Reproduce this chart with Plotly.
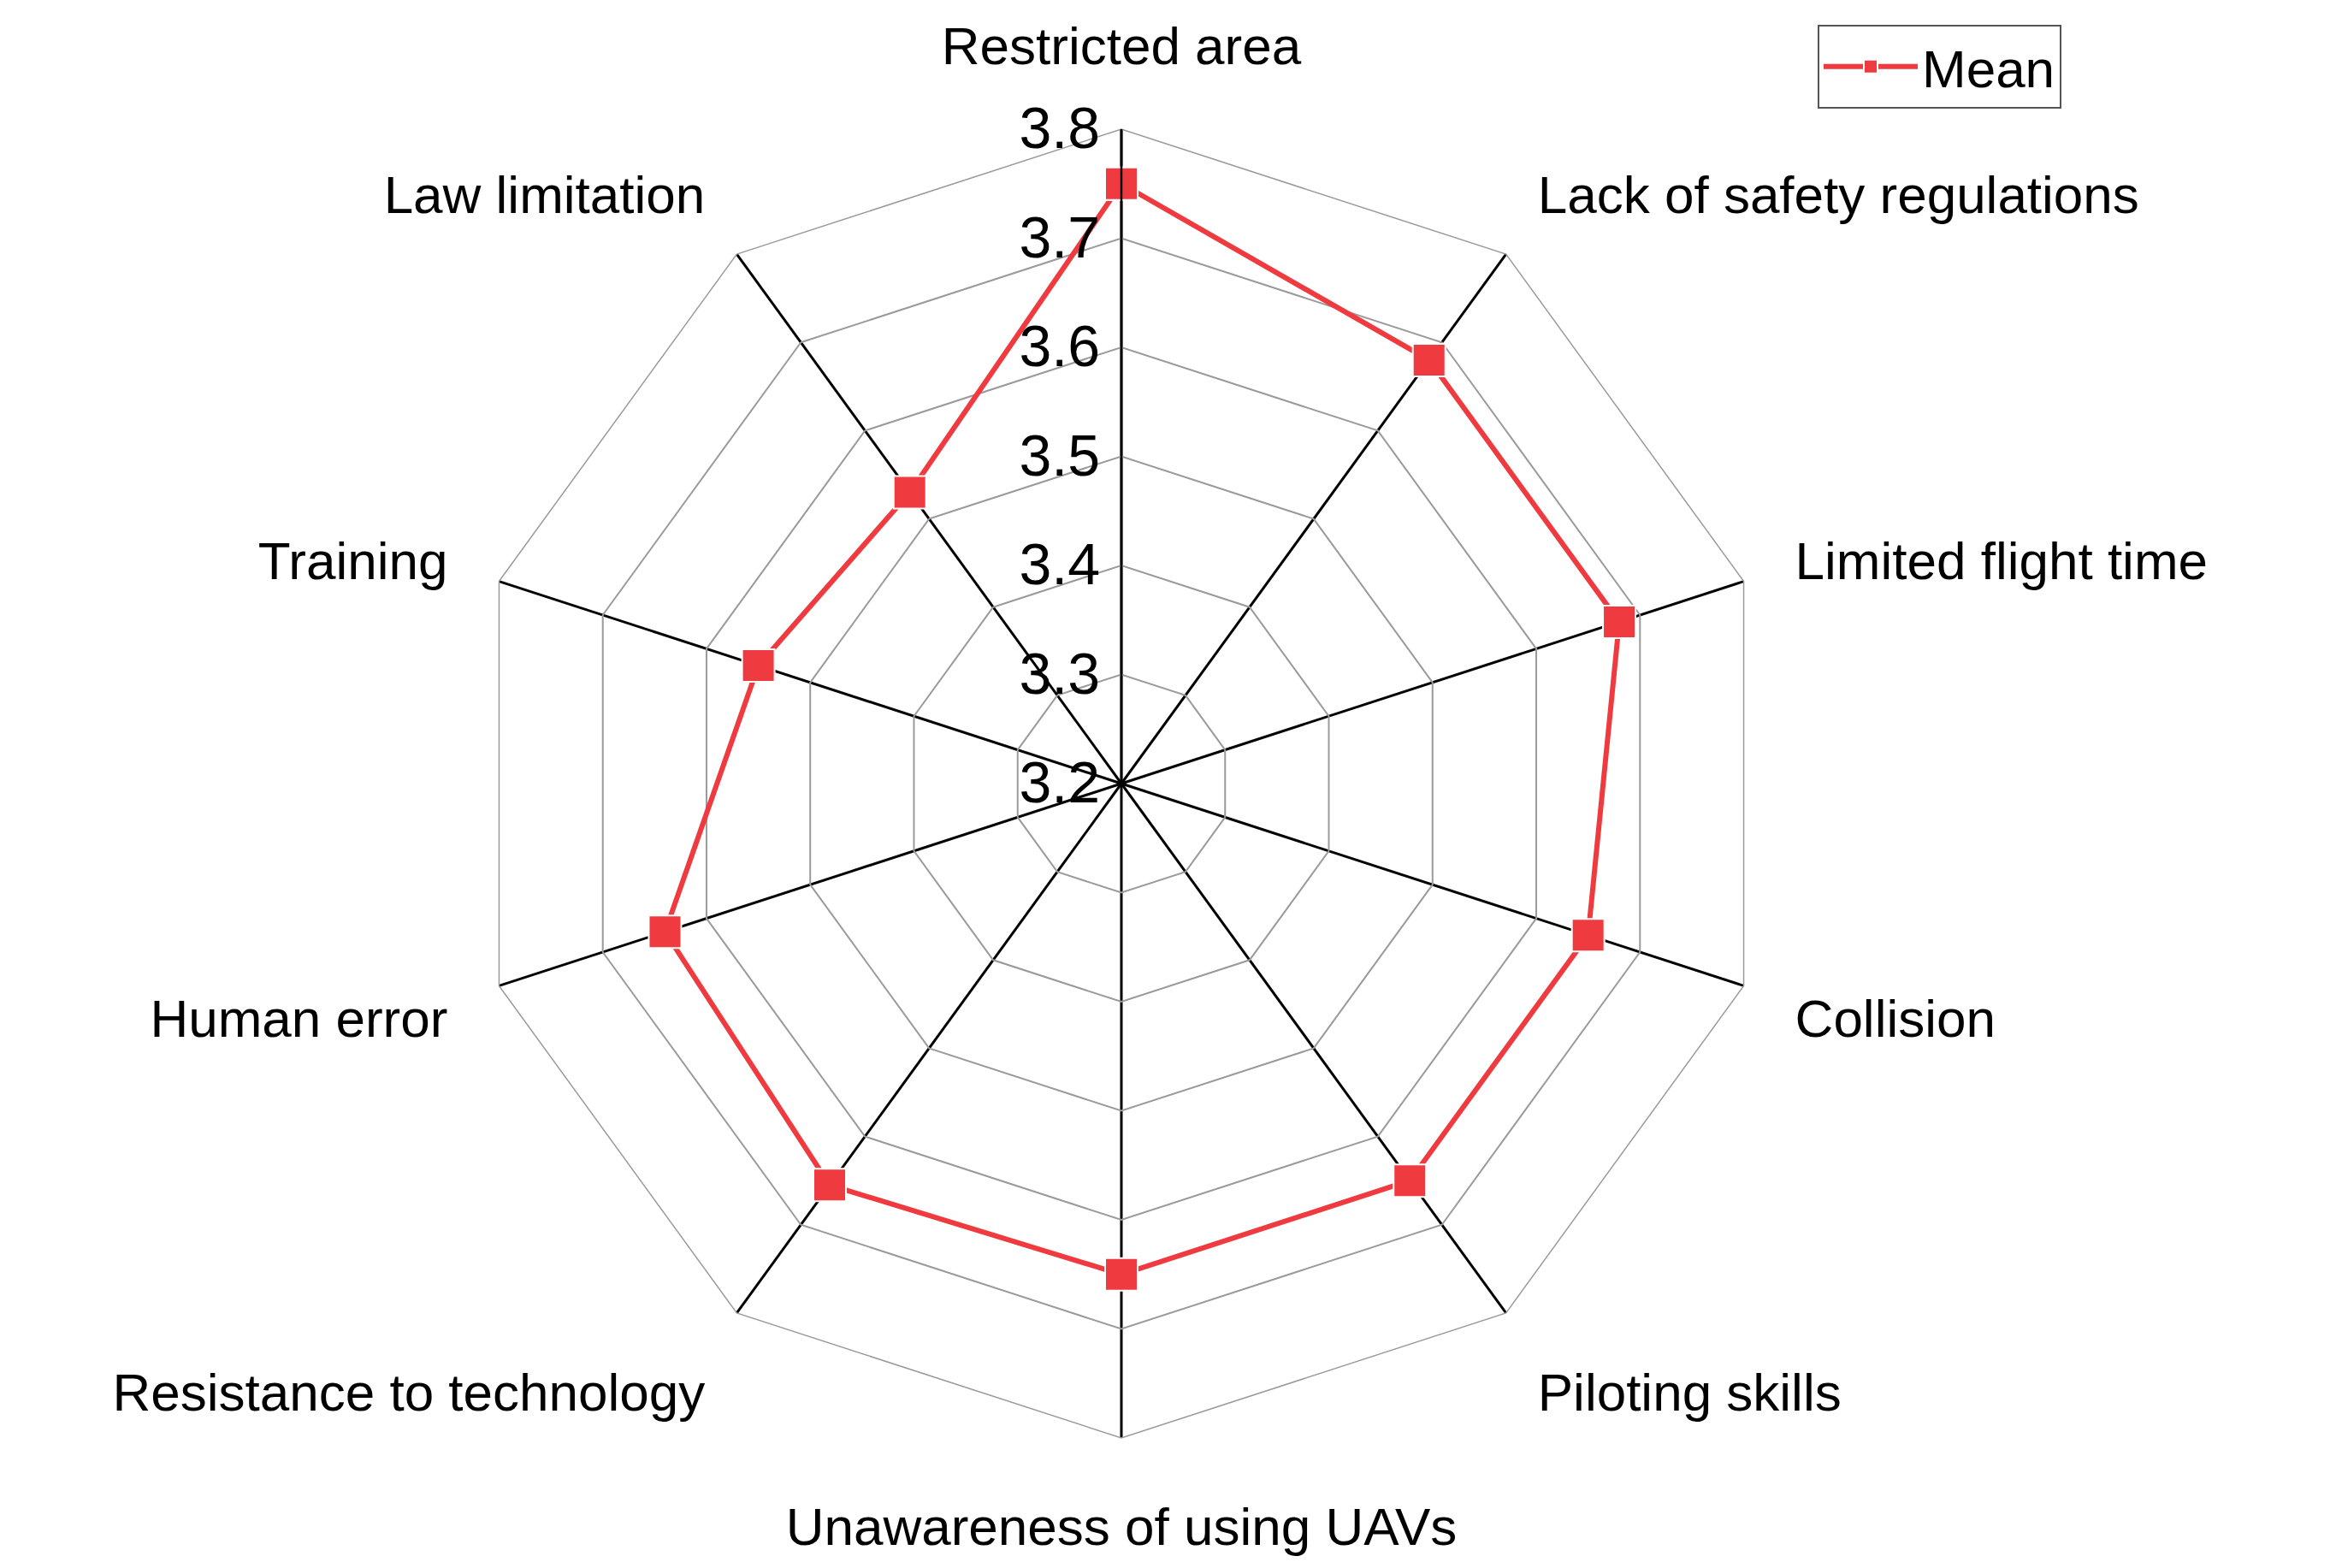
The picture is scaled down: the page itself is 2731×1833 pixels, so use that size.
import plotly.graph_objects as go

# radar chart of UAV adoption barriers (mean scores)
categories = ['Restricted area', 'Lack of safety regulations', 'Limited flight time',
              'Collision', 'Piloting skills', 'Unawareness of using UAVs',
              'Resistance to technology', 'Human error', 'Training', 'Law limitation']
mean_vals = [3.75, 3.68, 3.68, 3.65, 3.65, 3.65, 3.655, 3.64, 3.55, 3.53]
tick_vals = [3.2, 3.3, 3.4, 3.5, 3.6, 3.7, 3.8]
tick_text = ['3.2', '3.3', '3.4', '3.5', '3.6', '3.7', '3.8']

W, H = 2731, 1833
cx, cy, R = 1303, 908, 765
red = '#EF3B3F'

fig = go.Figure()
fig.add_trace(go.Scatterpolar(
    r=mean_vals + mean_vals[:1],
    theta=categories + categories[:1],
    mode='lines+markers',
    name='Mean',
    line=dict(color=red, width=6),
    marker=dict(symbol='square', size=38, color=red, line=dict(color='white', width=2)),
))

fig.update_layout(
    width=W, height=H,
    margin=dict(l=0, r=0, t=0, b=0),
    paper_bgcolor='white',
    font=dict(family='Liberation Sans, Arial', color='black'),
    polar=dict(
        domain=dict(x=[(cx - R) / W, (cx + R) / W], y=[(H - cy - R) / H, (H - cy + R) / H]),
        bgcolor='white',
        gridshape='linear',
        radialaxis=dict(
            range=[3.2, 3.8], tickvals=tick_vals, ticktext=tick_text,
            angle=90, side='counterclockwise', tickangle=90,
            showline=True, linecolor='black', linewidth=2.5,
            gridcolor='#9a9a9a', gridwidth=1.5,
            ticks='', tickfont=dict(size=68, color='black'),
        ),
        angularaxis=dict(
            direction='clockwise', rotation=90,
            showline=True, linecolor='#9a9a9a', linewidth=1.5,
            gridcolor='black', gridwidth=2.5,
            ticks='outside', ticklen=50, tickcolor='rgba(0,0,0,0)',
            tickfont=dict(size=62, color='black'),
        ),
    ),
    showlegend=True,
    legend=dict(
        x=2117 / W, y=1 - 21 / H, xanchor='left', yanchor='top',
        bordercolor='#555555', borderwidth=2, bgcolor='white',
        itemwidth=110,
        font=dict(size=62, color='black'),
    ),
)

fig.write_html("out.html")
